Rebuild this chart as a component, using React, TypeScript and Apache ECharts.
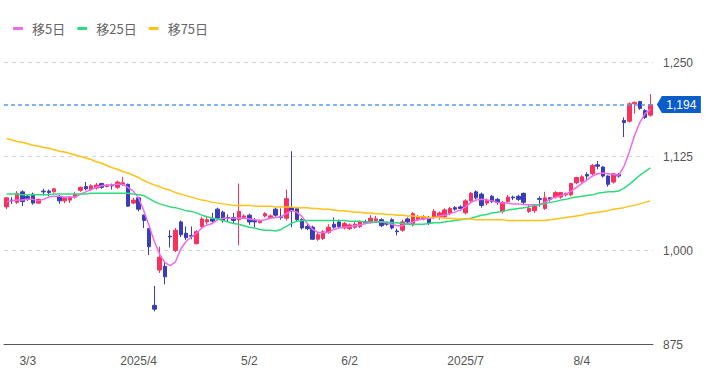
import React, { useEffect, useRef } from "react";
import * as echarts from "echarts";

// Trading days shown (month -> days)
const tradingDays: [string, number[]][] = [
  ["2025-02", [25, 26, 27, 28]],
  ["2025-03", [3, 4, 5, 6, 7, 10, 11, 12, 13, 14, 17, 18, 19, 21, 24, 25, 26, 27, 28, 31]],
  ["2025-04", [1, 2, 3, 4, 7, 8, 9, 10, 11, 14, 15, 16, 17, 18, 21, 22, 23, 24, 25, 28, 30]],
  ["2025-05", [1, 2, 7, 8, 9, 12, 13, 14, 15, 16, 19, 20, 21, 22, 23, 26, 27, 28, 29, 30]],
  ["2025-06", [2, 3, 4, 5, 6, 9, 10, 11, 12, 13, 16, 17, 18, 19, 20, 23, 24, 25, 26, 27, 30]],
  ["2025-07", [1, 2, 3, 4, 7, 8, 9, 10, 11, 14, 15, 16, 17, 18, 22, 23, 24, 25, 28, 29, 30, 31]],
  ["2025-08", [1, 4, 5, 6, 7, 8, 12, 13, 14, 15, 18, 19, 20, 21, 22]],
];
const categories: string[] = tradingDays.flatMap(([m, ds]) =>
  ds.map((d) => `${m}-${String(d).padStart(2, "0")}`)
);

const tickDates = ["2025-03-03", "2025-04-02", "2025-05-02", "2025-06-02", "2025-07-02", "2025-08-04"];
const tickTexts = ["3/3", "2025/4", "5/2", "6/2", "2025/7", "8/4"];

const opens = [
  1058, 1067, 1064, 1078, 1072, 1075, 1063, 1079, 1079, 1078,
  1072, 1066, 1067, 1071, 1080, 1085, 1081, 1083, 1089, 1085,
  1087, 1084, 1088, 1088, 1063, 1070, 1047, 1029, 927, 974,
  979, 1019, 1000, 1038, 1023, 1020, 1009, 1032, 1038, 1042,
  1055, 1051, 1044, 1044, 1041, 1044, 1047, 1040, 1037, 1046,
  1044, 1055, 1045, 1043, 1057, 1056, 1041, 1032, 1031, 1015,
  1016, 1024, 1035, 1038, 1030, 1029, 1031, 1032, 1038, 1038,
  1040, 1041, 1036, 1041, 1026, 1027, 1042, 1034, 1041, 1042,
  1044, 1044, 1044, 1045, 1049, 1057, 1058, 1050, 1066, 1078,
  1075, 1063, 1072, 1068, 1052, 1065, 1071, 1072, 1076, 1052,
  1053, 1069, 1056, 1070, 1071, 1071, 1074, 1074, 1090, 1092,
  1101, 1102, 1114, 1111, 1099, 1091, 1101, 1173, 1172, 1195,
  1198, 1186, 1180,
];
const closes = [
  1070, 1066, 1076, 1065, 1069, 1063, 1068, 1078, 1077, 1082,
  1066, 1070, 1071, 1075, 1084, 1082, 1086, 1087, 1084, 1087,
  1086, 1091, 1090, 1059, 1067, 1055, 1040, 1005, 922, 991,
  965, 1018, 1027, 1021, 1017, 1019, 1025, 1042, 1041, 1039,
  1043, 1040, 1043, 1040, 1052, 1046, 1038, 1038, 1039, 1049,
  1046, 1047, 1044, 1069, 1053, 1041, 1030, 1029, 1015, 1021,
  1025, 1031, 1031, 1032, 1036, 1034, 1035, 1038, 1037, 1043,
  1042, 1033, 1035, 1030, 1025, 1038, 1038, 1049, 1045, 1045,
  1036, 1052, 1050, 1054, 1056, 1055, 1056, 1066, 1076, 1070,
  1060, 1067, 1065, 1064, 1064, 1071, 1070, 1068, 1064, 1056,
  1059, 1068, 1070, 1068, 1077, 1077, 1076, 1089, 1097, 1098,
  1099, 1113, 1112, 1099, 1088, 1102, 1099, 1170, 1195, 1197,
  1189, 1177, 1194,
];
const lows = [
  1055, 1062, 1062, 1059, 1066, 1061, 1062, 1073, 1072, 1077,
  1062, 1063, 1063, 1069, 1078, 1080, 1079, 1081, 1082, 1084,
  1081, 1082, 1086, 1058, 1062, 1052, 1030, 994, 919, 970,
  955, 1004, 998, 1018, 1014, 1015, 1008, 1030, 1035, 1037,
  1041, 1037, 1038, 1036, 1007, 1042, 1034, 1031, 1036, 1044,
  1042, 1045, 1041, 1040, 1031, 1039, 1028, 1027, 1014, 1013,
  1014, 1022, 1029, 1030, 1028, 1027, 1029, 1030, 1035, 1036,
  1037, 1031, 1033, 1028, 1020, 1025, 1036, 1032, 1039, 1040,
  1034, 1042, 1041, 1043, 1047, 1053, 1053, 1048, 1064, 1068,
  1057, 1060, 1063, 1061, 1049, 1063, 1067, 1066, 1062, 1050,
  1050, 1058, 1054, 1065, 1069, 1069, 1072, 1072, 1088, 1090,
  1094, 1100, 1108, 1097, 1085, 1089, 1097, 1151, 1170, 1182,
  1187, 1175, 1178,
];
const highs = [
  1071, 1071, 1079, 1080, 1075, 1077, 1069, 1082, 1081, 1083,
  1074, 1071, 1072, 1078, 1085, 1091, 1088, 1090, 1090, 1088,
  1089, 1093, 1098, 1089, 1070, 1071, 1048, 1030, 953, 1005,
  985, 1027, 1030, 1040, 1032, 1032, 1027, 1045, 1046, 1050,
  1057, 1053, 1048, 1050, 1089, 1048, 1049, 1043, 1041, 1051,
  1048, 1057, 1056, 1081, 1132, 1058, 1043, 1035, 1033, 1024,
  1027, 1035, 1044, 1041, 1038, 1036, 1038, 1040, 1041, 1047,
  1046, 1043, 1038, 1043, 1029, 1041, 1044, 1051, 1047, 1047,
  1046, 1055, 1052, 1056, 1058, 1059, 1060, 1068, 1078, 1080,
  1077, 1069, 1074, 1070, 1066, 1074, 1073, 1074, 1077, 1062,
  1061, 1072, 1078, 1071, 1079, 1078, 1077, 1090, 1098, 1100,
  1104, 1115, 1119, 1112, 1100, 1103, 1103, 1177, 1197, 1198,
  1199, 1188, 1208,
];

const ma5 = [
  1065, 1066, 1067, 1067, 1068, 1068, 1066, 1068, 1071, 1072, 1072, 1071,
  1071, 1071, 1075, 1078, 1081, 1084, 1086, 1087, 1087, 1088, 1088, 1084,
  1079, 1070, 1053, 1033, 1012, 995, 984, 980, 985, 1002, 1012, 1018,
  1023, 1030, 1034, 1036, 1041, 1043, 1043, 1043, 1043, 1043, 1042, 1041,
  1040, 1041, 1043, 1044, 1045, 1049, 1053, 1051, 1045, 1036, 1028, 1024,
  1024, 1024, 1028, 1030, 1031, 1032, 1033, 1034, 1036, 1037, 1038, 1038,
  1037, 1035, 1033, 1033, 1036, 1038, 1041, 1042, 1043, 1044, 1046, 1047,
  1049, 1051, 1054, 1058, 1064, 1067, 1068, 1067, 1066, 1064, 1063, 1063,
  1062, 1062, 1061, 1061, 1061, 1061, 1064, 1068, 1071, 1073, 1075, 1079,
  1084, 1089, 1094, 1099, 1102, 1103, 1102, 1101, 1100, 1112, 1131, 1153,
  1170, 1182, 1188,
];
const ma25 = [
  1075, 1075, 1075, 1074, 1074, 1074, 1074, 1074, 1074, 1075, 1075, 1075,
  1075, 1075, 1075, 1075, 1076, 1076, 1076, 1076, 1076, 1076, 1076, 1076,
  1075, 1074, 1073, 1069, 1065, 1062, 1060, 1058, 1057, 1055, 1053, 1052,
  1050, 1047, 1045, 1043, 1042, 1040, 1038, 1036, 1035, 1033, 1031, 1030,
  1028, 1027, 1027, 1026, 1028, 1032, 1036, 1039, 1040, 1040, 1040, 1040,
  1040, 1040, 1040, 1040, 1040, 1039, 1039, 1039, 1038, 1038, 1038, 1038,
  1038, 1037, 1037, 1036, 1035, 1035, 1035, 1035, 1036, 1037, 1037, 1038,
  1039, 1040, 1041, 1042, 1043, 1045, 1047, 1048, 1050, 1051, 1052, 1054,
  1055, 1056, 1057, 1058, 1060, 1061, 1062, 1064, 1065, 1067, 1068, 1070,
  1071, 1072, 1073, 1074, 1076, 1077, 1078, 1078, 1079, 1083, 1088, 1094,
  1100, 1105, 1110,
];
const ma75 = [
  1149, 1147, 1145, 1144, 1142, 1140, 1139, 1137, 1136, 1134, 1132, 1131,
  1129, 1127, 1125, 1123, 1121, 1118, 1116, 1113, 1110, 1108, 1105, 1103,
  1100, 1097, 1093, 1090, 1087, 1085, 1082, 1080, 1077, 1075, 1073, 1071,
  1069, 1067, 1066, 1064, 1063, 1062, 1061, 1060, 1060, 1060, 1060, 1059,
  1059, 1059, 1059, 1058, 1058, 1058, 1058, 1057, 1057, 1057, 1056, 1056,
  1055, 1055, 1054, 1053, 1053, 1052, 1051, 1051, 1050, 1050, 1049, 1049,
  1048, 1048, 1047, 1047, 1046, 1046, 1045, 1045, 1044, 1044, 1044, 1043,
  1043, 1042, 1042, 1042, 1042, 1041, 1041, 1041, 1041, 1041, 1041, 1040,
  1040, 1040, 1040, 1040, 1040, 1040, 1040, 1041, 1042, 1043, 1044, 1045,
  1046, 1047, 1049, 1050, 1051, 1052, 1053, 1055, 1056, 1057, 1059, 1060,
  1062, 1064, 1066,
];

const seriesNames = ["移5日", "移25日", "移75日"];
const seriesColors = ["#f06af0", "#2edb7c", "#ffc215"];

const fmt = (v: number) => v.toLocaleString("en-US");

export default function App() {
  const ref = useRef<HTMLDivElement>(null);
  useEffect(() => {
    if (!ref.current) return;
    const chart = echarts.init(ref.current, undefined, { renderer: "svg" });
    const ohlc = opens.map((o, i) => [o, closes[i], lows[i], highs[i]]);
    const lastIdx = categories.length - 1;
    const lastClose = closes[lastIdx];
    const maData = [ma5, ma25, ma75];
    const option: any = {
      animation: false,
      backgroundColor: "#ffffff",
      legend: {
        data: seriesNames,
        left: 8,
        top: 17,
        icon: "roundRect",
        itemWidth: 10,
        itemHeight: 3,
        itemGap: 12,
        textStyle: {
          color: "#666",
          fontSize: 13,
          fontFamily: "Noto Sans CJK JP",
          padding: [0, 0, 0, 4],
        },
      },
      grid: { left: 4, right: 75, top: 62.5, bottom: 43.5 },
      xAxis: {
        type: "category",
        data: categories,
        boundaryGap: true,
        axisLine: { lineStyle: { color: "#555", width: 1 } },
        axisTick: { show: false },
        splitLine: { show: false },
        axisLabel: {
          interval: (_i: number, v: string) => tickDates.includes(v),
          formatter: (v: string) => {
            const k = tickDates.indexOf(v);
            return k >= 0 ? tickTexts[k] : "";
          },
          color: "#555",
          fontSize: 12,
          margin: 10,
          fontFamily: "Liberation Sans",
        },
      },
      yAxis: {
        type: "value",
        position: "right",
        min: 875,
        max: 1250,
        interval: 125,
        axisLine: { show: false },
        axisTick: { show: false },
        axisLabel: {
          formatter: (v: number) => fmt(v),
          color: "#555",
          fontSize: 12,
          margin: 10,
          fontFamily: "Liberation Sans",
        },
        splitLine: { lineStyle: { color: "#d5d5d5", type: [4, 4], width: 1 } },
      },
      series: [
        {
          type: "candlestick",
          name: "株価",
          data: ohlc,
          barWidth: 4,
          clip: false,
          itemStyle: {
            color: "#f8325c",
            color0: "#3a3db8",
            borderColor: "#f8325c",
            borderColor0: "#3a3db8",
            borderWidth: 1,
          },
          markLine: {
            silent: true,
            symbol: ["none", "none"],
            label: { show: false },
            lineStyle: { color: "#5a9ae6", type: [4, 3], width: 1.5 },
            data: [{ yAxis: lastClose }],
          },
          markPoint: {
            silent: true,
            symbol: "path://M0,8.5L5,0L44,0L44,17L5,17Z",
            symbolSize: [44, 17],
            symbolKeepAspect: false,
            symbolOffset: [28.5, 0],
            itemStyle: { color: "#0b5ec9" },
            label: {
              show: true,
              position: "inside",
              offset: [2.5, 0],
              color: "#fff",
              fontSize: 12,
              fontFamily: "Liberation Sans",
              formatter: () => fmt(lastClose),
            },
            data: [{ coord: [lastIdx, lastClose], value: lastClose }],
          },
        },
        ...seriesNames.map((n, k) => ({
          type: "line",
          name: n,
          data: maData[k],
          showSymbol: false,
          smooth: false,
          lineStyle: { width: 1.5, color: seriesColors[k] },
          itemStyle: { color: seriesColors[k] },
        })),
      ],
    };
    chart.setOption(option);
    return () => chart.dispose();
  }, []);
  return (
    <div
      ref={ref}
      style={{ position: "fixed", left: 0, top: 0, width: 728, height: 388, background: "#fff" }}
    />
  );
}
